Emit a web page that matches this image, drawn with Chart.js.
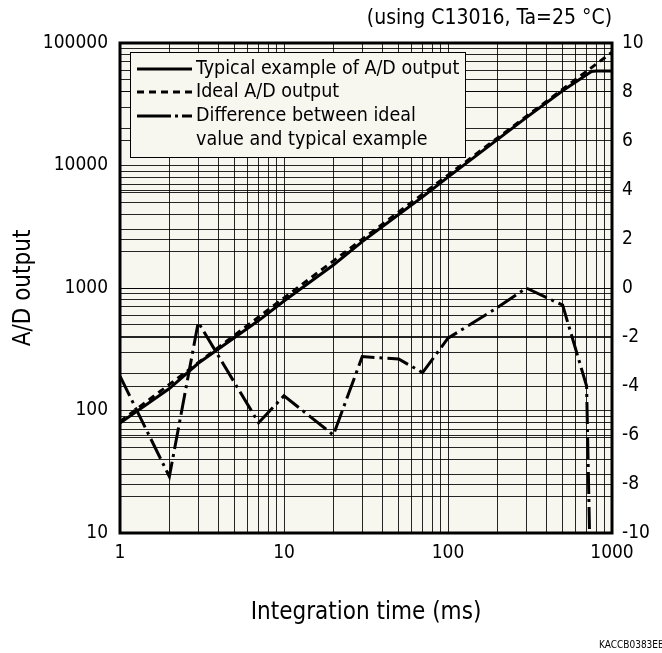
<!DOCTYPE html>
<html>
<head>
<meta charset="utf-8">
<script src="https://cdn.jsdelivr.net/npm/chart.js@4/dist/chart.umd.min.js"></script>
<style>
  html, body { margin: 0; padding: 0; background: #ffffff; }
  canvas { display: block; }
</style>
</head>
<body>
<canvas id="c" width="662" height="653"></canvas>
<script>
// ---- data ----
const typicalTimes = [1, 2, 3, 5, 7, 10, 20, 30, 50, 70, 100, 200, 300, 500, 700, 750, 800, 1000];
const typicalOutput = [79, 151, 243, 394, 542, 784, 1542, 2391, 3981, 5542, 8036, 16270, 24600, 40700, 55100, 58500, 59000, 59000];

const idealTimes = [1, 10, 100, 1000];
const idealOutput = [81, 830, 8350, 84000];

const diffTimes = [1, 2, 3, 7, 10, 20, 30, 50, 70, 100, 200, 300, 500, 700, 750];
const diffPercent = [-3.6, -7.7, -1.4, -5.5, -4.4, -6.0, -2.8, -2.9, -3.45, -2.05, -0.8, 0, -0.7, -4.0, -14];

const xTickLabels = [1, 10, 100, 1000];
const yTickLabels = [10, 100, 1000, 10000, 100000];
const legendLabels = ['Typical example of A/D output', 'Ideal A/D output', ['Difference between ideal', 'value and typical example']];
const noteText = '(using C13016, Ta=25 °C)';
const xTitle = 'Integration time (ms)';
const yTitle = 'A/D output';
const codeText = 'KACCB0383EB';

// ---- styling ----
const FONT = '"DejaVu Sans Condensed", "DejaVu Sans", sans-serif';
const FS = 19;
const PLOT_BG = '#f7f6ef';
const GRID = 'rgba(0,0,0,0.85)';

function decadeGrid(lo, hi) {
  const out = [];
  for (let d = lo; d < hi; d *= 10) {
    for (let m = 1; m < 10; m++) out.push(d * m);
  }
  out.push(hi);
  return out;
}

function pts(xs, ys) { return xs.map((x, i) => ({ x: x, y: ys[i] })); }

const extras = {
  id: 'extras',
  beforeDraw(chart) {
    const { ctx, chartArea: a } = chart;
    ctx.save();
    ctx.fillStyle = PLOT_BG;
    ctx.fillRect(a.left, a.top, a.right - a.left, a.bottom - a.top);
    ctx.restore();
  },
  afterDatasetsDraw(chart) {
    const { ctx, chartArea: a } = chart;
    ctx.save();
    // frame
    ctx.strokeStyle = '#000';
    ctx.lineWidth = 3;
    ctx.strokeRect(a.left, a.top, a.right - a.left, a.bottom - a.top);

    // legend box
    const bx = 130.5, by = 52.5, bw = 335, bh = 105;
    ctx.fillStyle = PLOT_BG;
    ctx.fillRect(bx, by, bw, bh);
    ctx.lineWidth = 1;
    ctx.strokeRect(bx, by, bw, bh);

    const ds = chart.data.datasets;
    const rows = [69, 92, 116];
    const x0 = 137, x1 = 192, tx = 196;
    ctx.font = '19.5px ' + FONT;
    ctx.textBaseline = 'middle';
    ctx.textAlign = 'left';
    for (let i = 0; i < 3; i++) {
      const y = rows[i];
      ctx.strokeStyle = ds[i].borderColor;
      ctx.lineWidth = 3;
      ctx.setLineDash(i === 0 ? [] : (i === 1 ? [7, 5] : [34, 4, 3, 4]));
      ctx.beginPath();
      ctx.moveTo(x0, y);
      ctx.lineTo(x1, y);
      ctx.stroke();
      ctx.setLineDash([]);
      ctx.fillStyle = '#000';
      const lab = legendLabels[i];
      if (Array.isArray(lab)) {
        lab.forEach((t, k) => ctx.fillText(t, tx, y + k * 24));
      } else {
        ctx.fillText(lab, tx, y);
      }
    }

    // note at top right
    ctx.font = '21px ' + FONT;
    ctx.textAlign = 'right';
    ctx.fillText(noteText, 612, 19);

    // x title
    ctx.font = '24px ' + FONT;
    ctx.textAlign = 'center';
    ctx.fillText(xTitle, (a.left + a.right) / 2, 613);

    // y title
    ctx.save();
    ctx.translate(24, (a.top + a.bottom) / 2);
    ctx.rotate(-Math.PI / 2);
    ctx.fillText(yTitle, 0, 0);
    ctx.restore();

    // code
    ctx.textAlign = 'left';
    ctx.font = '10px ' + FONT;
    ctx.fillText(codeText, 599, 645);
    ctx.restore();
  }
};

new Chart(document.getElementById('c'), {
  type: 'line',
  data: {
    datasets: [
      {
        label: legendLabels[0],
        data: pts(typicalTimes, typicalOutput),
        yAxisID: 'y',
        borderColor: '#000',
        borderWidth: 3,
        pointRadius: 0,
        tension: 0,
        fill: false
      },
      {
        label: legendLabels[1],
        data: pts(idealTimes, idealOutput),
        yAxisID: 'y',
        borderColor: '#000',
        borderWidth: 3,
        borderDash: [7, 5],
        pointRadius: 0,
        tension: 0,
        fill: false
      },
      {
        label: legendLabels[2].join(' '),
        data: pts(diffTimes, diffPercent),
        yAxisID: 'y1',
        borderColor: '#000',
        borderWidth: 3,
        borderDash: [22, 5, 3, 5],
        pointRadius: 0,
        tension: 0,
        fill: false
      }
    ]
  },
  options: {
    responsive: false,
    animation: false,
    layout: { padding: { top: 43, left: 0, right: 0, bottom: 0 } },
    plugins: { legend: { display: false }, tooltip: { enabled: false } },
    scales: {
      x: {
        type: 'logarithmic',
        min: 1,
        max: 1000,
        afterBuildTicks: (s) => { s.ticks = decadeGrid(1, 1000).map(v => ({ value: v })); },
        afterFit: (s) => { s.height = 120; },
        grid: { color: GRID, lineWidth: 1, drawTicks: false },
        border: { display: false },
        ticks: {
          autoSkip: false,
          maxRotation: 0,
          padding: 9,
          color: '#000',
          font: { family: FONT, size: FS },
          callback: (v) => xTickLabels.includes(v) ? String(v) : ''
        }
      },
      y: {
        type: 'logarithmic',
        position: 'left',
        min: 10,
        max: 100000,
        afterBuildTicks: (s) => { s.ticks = decadeGrid(10, 100000).map(v => ({ value: v })); },
        afterFit: (s) => { s.width = 120; },
        grid: { color: GRID, lineWidth: 1, drawTicks: false },
        border: { display: false },
        ticks: {
          autoSkip: false,
          padding: 12,
          color: '#000',
          font: { family: FONT, size: FS },
          callback: (v) => yTickLabels.includes(v) ? String(v) : ''
        }
      },
      y1: {
        type: 'linear',
        position: 'right',
        min: -10,
        max: 10,
        afterFit: (s) => { s.width = 50; },
        grid: { color: GRID, lineWidth: 1, drawTicks: false, drawOnChartArea: true },
        border: { display: false },
        ticks: {
          stepSize: 2,
          padding: 10,
          color: '#000',
          font: { family: FONT, size: FS }
        }
      }
    }
  },
  plugins: [extras]
});
</script>
</body>
</html>
